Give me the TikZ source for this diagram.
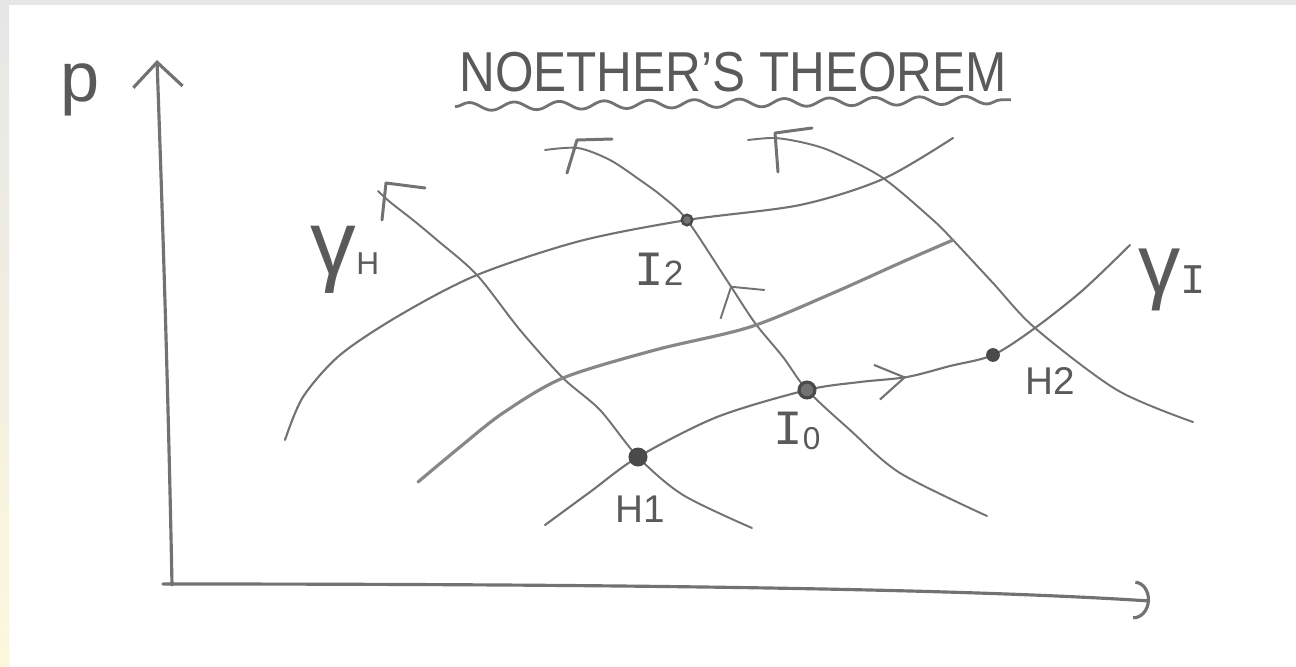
\documentclass[tikz,border=0pt]{standalone}
\usepackage{fontspec}
\setmainfont{Liberation Sans}
\newfontfamily\handmono{Liberation Mono}
\usetikzlibrary{arrows.meta, decorations.pathmorphing, decorations.markings}
\definecolor{inkline}{HTML}{727272}
\definecolor{inktext}{HTML}{5A5A5A}
\definecolor{inkdot}{HTML}{4A4A4A}
\definecolor{edgegray}{HTML}{E6E6E6}
\definecolor{edgeyellow}{HTML}{FDF8DC}
\tikzset{
  phaseaxis/.style={draw=inkline, line width=0.9pt, line cap=round},
  levelH/.style={draw=inkline, line width=0.55pt, line cap=round},
  levelbarb/.style={draw=inkline, line width=0.85pt, line cap=round, line join=round},
  flowI/.style={draw=inkline, line width=0.6pt, line cap=round},
  phasedot/.style={circle, draw=inkdot, fill=inkdot, inner sep=0pt,
                   minimum size=3pt},
  phaselabel/.style={text=inktext, inner sep=1pt}
}

\begin{document}
\begin{tikzpicture}[
    x=0.01cm, y=-0.01cm,
    midmark/.style={postaction={decorate}, decoration={markings, #1}}
]
  \useasboundingbox (0,0) rectangle (1296,666);
  % scanned page edges
  \fill[edgegray] (0,0) rectangle (1296,5);
  \shade[top color=edgegray, bottom color=edgeyellow] (0,5) rectangle (9,666);

  % axes
  \coordinate (porigin) at (172,585);
  \coordinate (ptop) at (157,60);
  \coordinate (qstart) at (163,584);
  \coordinate (qend) at (1150,601);
  \draw[phaseaxis, -{Straight Barb[length=7pt, width=14pt]}]
    (porigin) .. controls (168,380) and (162,200) .. (ptop);
  \draw[phaseaxis, -{Arc Barb[length=4.5pt, width=11pt]}]
    (qstart) .. controls (600,584) and (950,588) .. (qend);

  % points
  \coordinate (H1) at (638,457);
  \coordinate (I0) at (807,390);
  \coordinate (I2) at (687,220);
  \coordinate (H2) at (993,355);

  % level curves of H
  \coordinate (hAtop) at (378,191);  \coordinate (hAend) at (752,528);
  \coordinate (hBtop) at (545,150);  \coordinate (hBend) at (987,516);
  \coordinate (hCtop) at (748,140);  \coordinate (hCend) at (1193,422);
  \draw[levelH] plot[smooth] coordinates
    {(hAtop) (390,202) (413,220) (437,240) (477,275) (520,330) (563,378) (600,410) (H1) (683,495) (hAend)};
  \draw[levelH,
        midmark={mark=at position 0.41 with {\arrowreversed{Straight Barb[length=6pt, width=15pt]}}}]
    plot[smooth] coordinates
    {(hBtop) (578,148) (610,160) (640,180) (663,197) (I2) (728,282) (755,323) (783,357) (I0) (850,430) (900,473) (hBend)};
  \draw[levelH] plot[smooth] coordinates
    {(hCtop) (775,138) (805,143) (833,152) (883,178) (933,220) (953,240) (993,283) (1035,328) (1117,390) (hCend)};

  % barbs at the upper ends
  \coordinate (hAcorner) at (386,183);
  \coordinate (hBcorner) at (577,140);
  \coordinate (hCcorner) at (775,133);
  \draw[levelbarb] (382,220) -- (hAcorner) -- (425,188);
  \draw[levelbarb] (567,173) -- (hBcorner) -- (612,139);
  \draw[levelbarb] (778,172) -- (hCcorner) -- (812,128);

  % flow lines of I
  \coordinate (iUstart) at (285,440); \coordinate (iUend) at (953,138);
  \coordinate (iMstart) at (418,482); \coordinate (iMend) at (953,240);
  \coordinate (iLstart) at (545,525); \coordinate (iLend) at (1130,245);
  \draw[flowI] plot[smooth] coordinates
    {(iUstart) (303,397) (340,355) (400,315) (477,275) (580,241) (I2) (800,205) (883,179) (iUend)};
  \draw[flowI, draw=inkline!85, line width=0.9pt] plot[smooth] coordinates
    {(iMstart) (460,447) (503,413) (563,378) (655,350) (750,327) (833,293) (900,263) (iMend)};
  \draw[flowI, midmark={mark=at position 0.6 with {\arrow{Straight Barb[length=8pt, width=10pt]}}}]
    plot[smooth] coordinates
    {(iLstart) (590,492) (H1) (717,417) (I0) (860,382) (907,377) (950,366) (H2) (1035,328) (1083,290) (iLend)};

  \node[phasedot, minimum size=5pt] (H1dot) at (H1) {};
  \node[phasedot, fill=inkline, line width=0.9pt, minimum size=4.5pt] (I0dot) at (I0) {};
  \node[phasedot, fill=inkline, line width=0.7pt] (I2dot) at (I2) {};
  \node[phasedot, minimum size=3.5pt] (H2dot) at (H2) {};

  % labels
  \node[phaselabel, font=\fontsize{20}{20}\selectfont] (plabel) at (80,90) {p};
  \node[phaselabel] (title) at (733,72)
    {\scalebox{0.88}[1]{\fontsize{16}{16}\selectfont NOETHER'S THEOREM}};
  \draw[draw=inkline, line width=0.8pt, decorate,
        decoration={snake, segment length=0.45cm, amplitude=0.04cm}]
    ([yshift=-3pt]title.south west) -- ([yshift=-1pt]title.south east);
  \node[phaselabel] (gammaH) at (345,260)
    {{\fontsize{26}{26}\selectfont γ}{\fontsize{9}{9}\selectfont H}};
  \node[phaselabel] (gammaI) at (1172,280)
    {{\fontsize{24}{24}\selectfont γ}{\handmono\fontsize{12}{12}\selectfont I}};
  \node[phaselabel] (I2lbl) at (659,269)
    {{\handmono\fontsize{14}{14}\selectfont I}{\fontsize{10}{10}\selectfont 2}};
  \node[phaselabel] (I0lbl) at (797,431)
    {{\handmono\fontsize{14}{14}\selectfont I}\raisebox{-1.5pt}{\fontsize{9}{9}\selectfont 0}};
  \node[phaselabel, font=\fontsize{11}{11}\selectfont] (H1lbl) at (640,509) {H1};
  \node[phaselabel, font=\fontsize{11}{11}\selectfont] (H2lbl) at (1050,381) {H2};
\end{tikzpicture}
\end{document}
